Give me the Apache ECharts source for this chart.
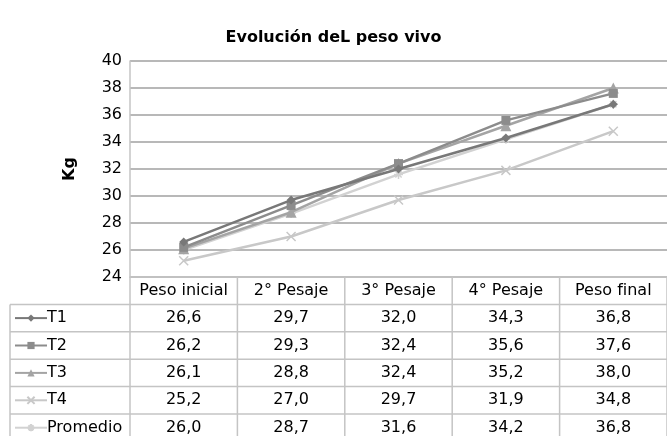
<!DOCTYPE html>
<html lang="es">
<head>
<meta charset="UTF-8">
<title>Evolución del peso vivo</title>
<style>
  html, body { margin: 0; padding: 0; background: #fff; }
  #chart { width: 667px; height: 436px; }
</style>
</head>
<body>
<div id="chart"></div>
<script src="https://cdn.jsdelivr.net/npm/echarts@6/dist/echarts.min.js"></script>
<script>
// datos
const categorias = ['Peso inicial', '2° Pesaje', '3° Pesaje', '4° Pesaje', 'Peso final'];
const nombres = ['T1', 'T2', 'T3', 'T4', 'Promedio'];
const t1 = [26.6, 29.7, 32.0, 34.3, 36.8];
const t2 = [26.2, 29.3, 32.4, 35.6, 37.6];
const t3 = [26.1, 28.8, 32.4, 35.2, 38.0];
const t4 = [25.2, 27.0, 29.7, 31.9, 34.8];
const promedio = [26.0, 28.7, 31.6, 34.2, 36.8];
const valores = [t1, t2, t3, t4, promedio];

const colores = ['#787878', '#8c8c8c', '#a4a4a4', '#c8c8c8', '#d2d2d2'];
const simbolos = [
  'diamond',
  'rect',
  'triangle',
  'path://M0,0L10,10M10,0L0,10',
  'path://M5,0L5,10M0,5L10,5M1.5,1.5L8.5,8.5M8.5,1.5L1.5,8.5'
];

// layout
const gridLeft = 130, gridTop = 61, gridBottomY = 277;
const filaH = 27.4;
const tablaIzq = 10;
const fuente = 'DejaVu Sans';
const tam = 16;

const chart = echarts.init(document.getElementById('chart'));

const series = nombres.map((n, i) => ({
  name: n,
  type: 'line',
  data: valores[i],
  symbol: simbolos[i],
  symbolSize: i === 2 ? 11 : 9,
  lineStyle: { color: colores[i], width: 2.5 },
  itemStyle: { color: colores[i], borderColor: colores[i], borderWidth: i >= 3 ? 1.5 : 0 },
  z: 5 + (4 - i)
}));

const leyenda = (datos, fila) => ({
  orient: 'vertical',
  left: 10,
  top: gridBottomY + (fila + 1) * filaH + (filaH - 16) / 2,
  padding: [0, 0, 0, 4],
  itemWidth: 32,
  itemHeight: 9,
  itemGap: filaH - 16,
  textStyle: { fontFamily: fuente, fontSize: tam, lineHeight: 16, color: '#000', padding: [0, 0, 0, -5] },
  data: datos
});

chart.setOption({
  animation: false,
  title: {
    text: 'Evolución deL peso vivo',
    left: 'center',
    top: 25,
    textStyle: { fontFamily: fuente, fontSize: 16, fontWeight: 'bold', color: '#000' }
  },
  legend: [leyenda(nombres.slice(0, 4), 0), leyenda(nombres.slice(4), 4)],
  grid: { left: gridLeft, right: 0, top: gridTop, bottom: 436 - gridBottomY },
  xAxis: {
    type: 'category',
    data: categorias,
    boundaryGap: true,
    axisLine: { lineStyle: { color: '#c4c4c4', width: 1.5 } },
    axisTick: { show: false },
    axisLabel: { interval: 0, fontFamily: fuente, fontSize: tam, color: '#000', margin: 6 }
  },
  yAxis: {
    type: 'value',
    min: 24,
    max: 40,
    interval: 2,
    name: 'Kg',
    nameLocation: 'middle',
    nameRotate: 90,
    nameGap: 52,
    nameTextStyle: { fontFamily: fuente, fontSize: 16, fontWeight: 'bold', color: '#000' },
    axisLine: { show: true, lineStyle: { color: '#c4c4c4', width: 1.5 } },
    axisTick: { show: false },
    axisLabel: { fontFamily: fuente, fontSize: tam, color: '#000', margin: 8 },
    splitLine: { lineStyle: { color: '#b8b8b8', width: 2 } }
  },
  series: series
});

// tabla de datos debajo del eje
const graficos = [];
const ancho = 667;
const colX = [gridLeft];
categorias.forEach((c, j) => {
  const cx = chart.convertToPixel({ xAxisIndex: 0 }, c);
  colX.push(cx + (cx - colX[j]));
});
const lineaTabla = { stroke: '#c4c4c4', lineWidth: 1.5 };
// verticales
colX.forEach((x) => {
  graficos.push({
    type: 'line', silent: true,
    shape: { x1: x, y1: gridBottomY, x2: x, y2: 436 },
    style: lineaTabla
  });
});
graficos.push({
  type: 'line', silent: true,
  shape: { x1: tablaIzq, y1: gridBottomY + filaH, x2: tablaIzq, y2: 436 },
  style: lineaTabla
});
// horizontales
for (let r = 1; r <= nombres.length; r++) {
  const y = gridBottomY + r * filaH;
  graficos.push({
    type: 'line', silent: true,
    shape: { x1: tablaIzq, y1: y, x2: ancho, y2: y },
    style: lineaTabla
  });
}
// valores
valores.forEach((fila, i) => {
  const y = gridBottomY + (i + 1.5) * filaH;
  fila.forEach((v, j) => {
    graficos.push({
      type: 'text', silent: true,
      x: chart.convertToPixel({ xAxisIndex: 0 }, categorias[j]),
      y: y,
      style: {
        text: v.toFixed(1).replace('.', ','),
        font: tam + 'px "DejaVu Sans"',
        fill: '#000',
        align: 'center',
        verticalAlign: 'middle'
      }
    });
  });
});
chart.setOption({ graphic: graficos });
</script>
</body>
</html>
